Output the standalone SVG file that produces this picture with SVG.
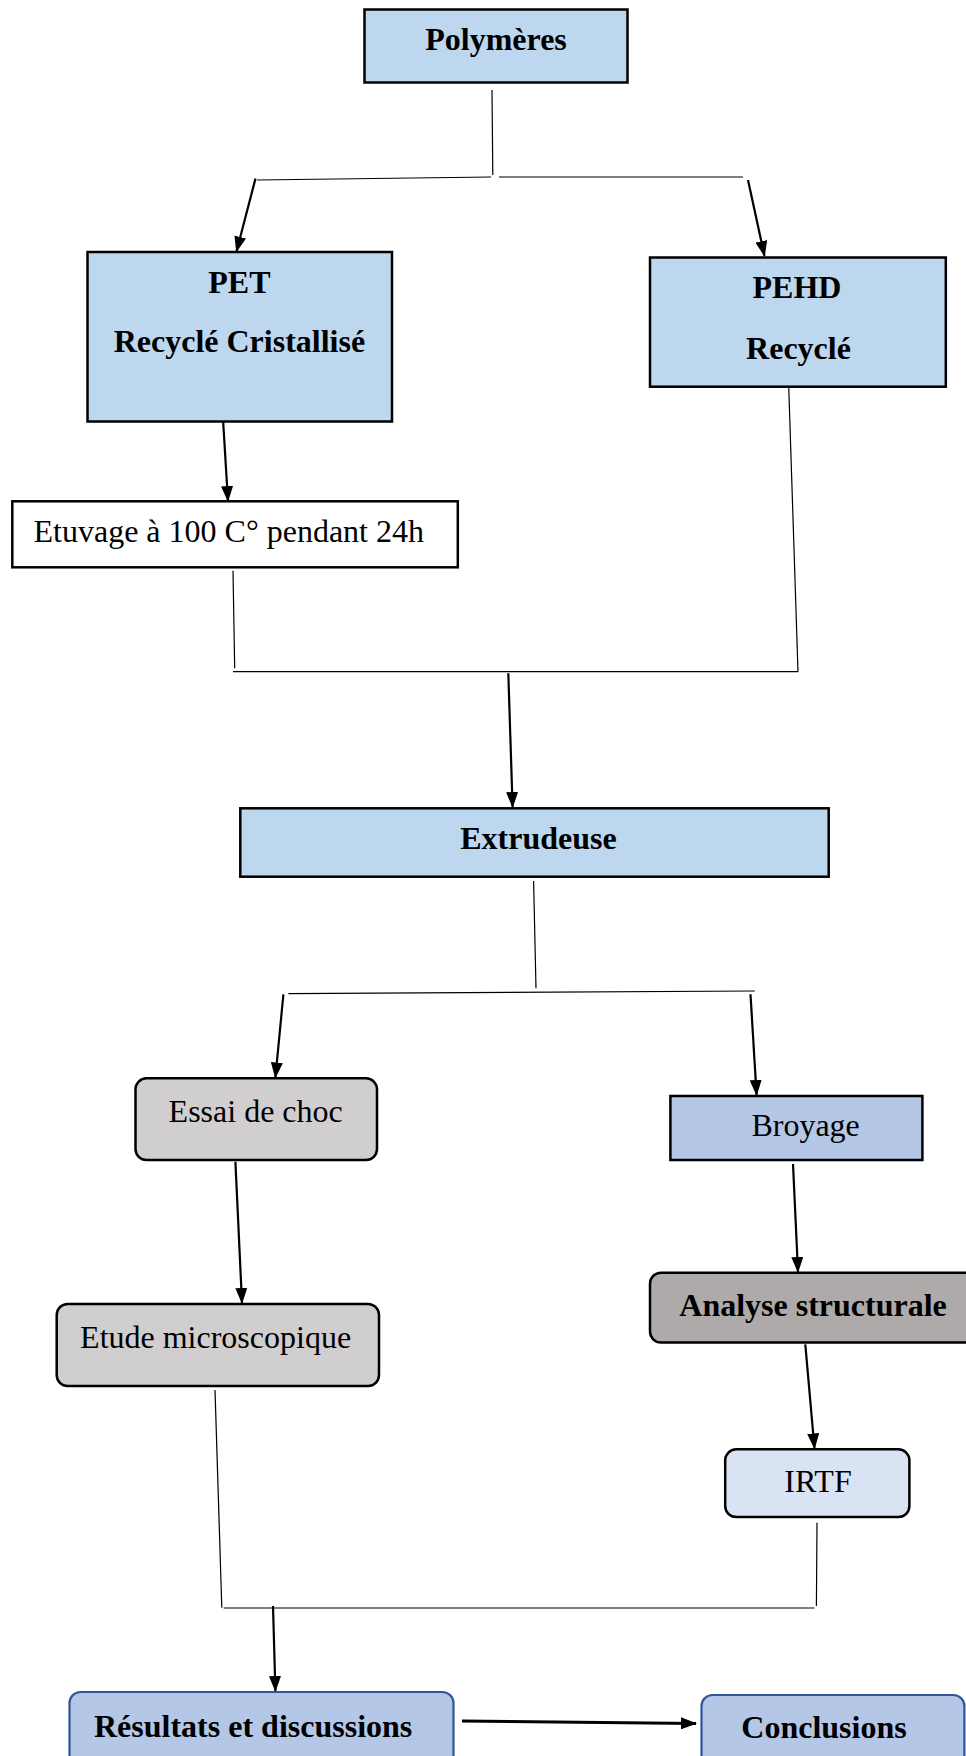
<svg xmlns="http://www.w3.org/2000/svg" width="966" height="1756" viewBox="0 0 966 1756">
<style>
.box{stroke:#000;stroke-width:2.5}
.blue{fill:#BDD7EE}
.t{font-family:"Liberation Serif","Times New Roman",serif;font-size:32px;fill:#000}
.b{font-weight:bold}
.c{text-anchor:middle}
.thin{stroke:#000;stroke-width:1.2;fill:none}
.arr{stroke:#000;stroke-width:2.2;fill:none;marker-end:url(#ah)}
</style>
<defs>
<marker id="ah" markerUnits="userSpaceOnUse" markerWidth="16" markerHeight="12" refX="15" refY="6" orient="auto">
<path d="M0,0 L16,6 L0,12 z" fill="#000"/>
</marker>
</defs>
<rect width="966" height="1756" fill="#fff"/>
<g id="connectors">
<line class="thin" x1="492" y1="90" x2="492.8" y2="175"/>
<line class="thin" x1="257" y1="180" x2="491" y2="177"/>
<line class="thin" x1="499" y1="177" x2="743" y2="177"/>
<line class="arr" x1="255.5" y1="178.5" x2="236.5" y2="251.5"/>
<line class="arr" x1="748" y1="180" x2="764.5" y2="256"/>
<line class="arr" x1="223" y1="419.3" x2="228" y2="501"/>
<line class="thin" x1="233" y1="570.7" x2="234.7" y2="668.3"/>
<line class="thin" x1="788.7" y1="386" x2="798" y2="671.7"/>
<line class="thin" x1="233" y1="671.7" x2="798" y2="671.7"/>
<line class="arr" x1="508.3" y1="673.3" x2="512.6" y2="807"/>
<line class="thin" x1="533.6" y1="881" x2="536" y2="988.3"/>
<line class="thin" x1="288.4" y1="993.7" x2="754.8" y2="991"/>
<line class="arr" x1="283.4" y1="994.3" x2="275.4" y2="1077.5"/>
<line class="arr" x1="750.5" y1="994.3" x2="756.6" y2="1095"/>
<line class="arr" x1="235.4" y1="1161.7" x2="242" y2="1303"/>
<line class="arr" x1="793" y1="1164" x2="798" y2="1272"/>
<line class="arr" x1="805.3" y1="1344.3" x2="814.5" y2="1448.5"/>
<line class="thin" x1="215" y1="1390" x2="221.8" y2="1607.7"/>
<line class="thin" x1="817" y1="1522.7" x2="816.4" y2="1606"/>
<line class="thin" x1="223.7" y1="1608" x2="814.5" y2="1608"/>
<line class="arr" x1="273" y1="1606" x2="275.4" y2="1691"/>
<line class="arr" style="stroke-width:3.2" x1="462" y1="1721" x2="696" y2="1723.5"/>
</g>
<g id="polymeres">
<rect class="box blue" x="364.5" y="9.5" width="263" height="73"/>
<text class="t b c" x="496" y="50">Polymères</text>
</g>
<g id="pet">
<rect class="box blue" x="87.5" y="252" width="304.5" height="169.5"/>
<text class="t b c" x="239.4" y="292.7">PET</text>
<text class="t b c" x="239.4" y="351.7">Recyclé Cristallisé</text>
</g>
<g id="pehd">
<rect class="box blue" x="650" y="257.5" width="295.8" height="129.2"/>
<text class="t b c" x="797" y="297.7">PEHD</text>
<text class="t b c" x="798.5" y="359.3">Recyclé</text>
</g>
<g id="etuvage">
<rect class="box" fill="#fff" x="12.3" y="501.3" width="445.5" height="66"/>
<text class="t" x="33.5" y="541.7">Etuvage à 100 C° pendant 24h</text>
</g>
<g id="extrudeuse">
<rect class="box blue" x="240.3" y="808.3" width="588.4" height="68.4"/>
<text class="t b c" x="538.5" y="849.3">Extrudeuse</text>
</g>
<g id="essai">
<rect class="box" fill="#D0CECE" x="135.5" y="1078.3" width="241.5" height="81.7" rx="11"/>
<text class="t c" x="255.7" y="1121.7">Essai de choc</text>
</g>
<g id="broyage">
<rect class="box" fill="#B4C7E7" x="670.4" y="1096" width="252" height="64"/>
<text class="t c" x="805.6" y="1136">Broyage</text>
</g>
<g id="etude">
<rect class="box" fill="#D0CECE" x="56.7" y="1304" width="322.3" height="82" rx="11"/>
<text class="t c" x="215.6" y="1347.7">Etude microscopique</text>
</g>
<g id="analyse">
<rect class="box" fill="#AEAAAA" x="650" y="1272.7" width="330" height="69.8" rx="11"/>
<text class="t b" x="679.3" y="1315.7">Analyse structurale</text>
</g>
<g id="irtf">
<rect class="box" fill="#DAE3F3" x="725.2" y="1449.3" width="184.2" height="67.7" rx="11"/>
<text class="t c" x="818" y="1492">IRTF</text>
</g>
<g id="resultats">
<rect fill="#B4C7E7" stroke="#2F5597" stroke-width="2.2" x="69.5" y="1692" width="384" height="90" rx="11"/>
<text class="t b" x="94" y="1736.7">Résultats et discussions</text>
</g>
<g id="conclusions">
<rect fill="#B4C7E7" stroke="#2F5597" stroke-width="2.2" x="701.5" y="1695" width="262.9" height="90" rx="11"/>
<text class="t b c" x="824" y="1737.7">Conclusions</text>
</g>
</svg>
